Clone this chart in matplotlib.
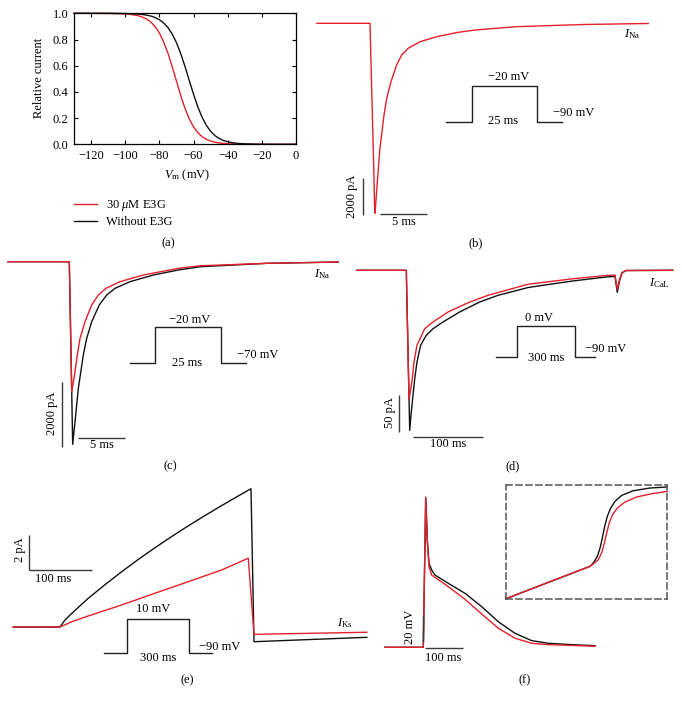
import matplotlib
matplotlib.use("Agg")
import matplotlib.pyplot as plt
from matplotlib.lines import Line2D

plt.rcParams['font.family'] = ['Liberation Serif', 'DejaVu Serif']
plt.rcParams['mathtext.fontset'] = 'custom'
plt.rcParams['mathtext.rm'] = 'Liberation Serif'
plt.rcParams['mathtext.it'] = 'Liberation Serif:italic'
plt.rcParams['mathtext.bf'] = 'Liberation Serif:bold'
plt.rcParams['font.size'] = 9

RED = '#e3202b'
BLK = '#111111'
SB = '#3a3a3a'

# ---------------- data ----------------
# (a) steady-state inactivation
a_v = [-130, -120, -110, -105, -100, -97.5, -95, -92.5, -90, -87.5, -85, -82.5, -80, -77.5,
       -75, -72.5, -70, -67.5, -65, -62.5, -60, -57.5, -55, -52.5, -50, -47.5, -45, -42.5,
       -40, -37.5, -35, -32.5, -30, -25, -20, -10, 0]
a_red = [1.0, 0.9999, 0.9992, 0.998, 0.9952, 0.9925, 0.9882, 0.9817, 0.9715, 0.956, 0.933,
         0.898, 0.849, 0.782, 0.696, 0.593, 0.482, 0.372, 0.274, 0.194, 0.133, 0.089, 0.0586,
         0.0382, 0.0247, 0.0159, 0.0102, 0.0065, 0.0042, 0.0027, 0.0017, 0.0011, 0.0007,
         0.0003, 0.0001, 0.0, 0.0]
a_black = [1.0, 0.99995, 0.9997, 0.9993, 0.9984, 0.9975, 0.9961, 0.9940, 0.9909, 0.9861,
           0.9788, 0.9677, 0.951, 0.926, 0.891, 0.842, 0.776, 0.692, 0.594, 0.487, 0.382,
           0.286, 0.207, 0.145, 0.099, 0.0668, 0.0444, 0.0293, 0.0193, 0.0126, 0.0082,
           0.0054, 0.0035, 0.0015, 0.0006, 0.0001, 0.0]
a_xticks = [-120, -100, -80, -60, -40, -20, 0]
a_yticks = [0.0, 0.2, 0.4, 0.6, 0.8, 1.0]
legend_labels = [r'30 $\mu$M E3G', 'Without E3G']

# (b) INa, holding -90 mV (ms, pA)
b_t = [-5.64, 0, 0.21, 0.43, 0.48, 0.53, 0.64, 0.78, 1.06, 1.49, 1.78, 2.23, 2.84, 3.37,
       4.07, 5.32, 7.1, 9.4, 11.2, 15.5, 22.7, 29.6]
b_red = [0, 0, -4150, -8470, -9820, -10270, -9550, -8560, -6760, -4960, -4050, -3160,
         -2250, -1710, -1350, -995, -725, -486, -362, -184, -65, -10]

# (c) INa, holding -70 mV
c_t_black = [-6.52, 0, 0.36, 0.61, 0.96, 1.49, 1.85, 2.38, 3.19, 3.98, 4.86, 6.46, 8.94,
             11.6, 13.9, 21.0, 28.6]
c_black = [0, 0, -5620, -4920, -3900, -2870, -2360, -1850, -1330, -1025, -820, -615, -410,
           -255, -155, -50, -10]
c_t_red = [-6.52, 0, 0.26, 0.61, 0.85, 1.14, 1.67, 2.38, 3.09, 3.90, 5.39, 7.87, 11.6,
           13.9, 21.0, 28.6]
c_red = [0, 0, -4000, -3385, -2870, -2360, -1850, -1330, -1025, -820, -615, -410, -205,
         -125, -50, -10]

# (d) ICaL
d_t_black = [-71.5, 0, 4.9, 7.2, 9.7, 12.1, 15.4, 20.7, 28.8, 38.5, 52.9, 76.9, 105.8,
             132.1, 175.4, 192.7, 240.2, 289.2, 300.7, 304.0, 307.2, 310.8, 316.6, 384]
d_black = [0, 0, -218, -193, -170, -148, -125, -102, -88.6, -79.6, -70.4, -56.8, -43.2,
           -34.1, -23.5, -21.0, -14.5, -9.0, -8.3, -30, -14.6, -3.7, -0.3, 0]
d_t_red = [-71.5, 0, 3.9, 8.6, 11.1, 15.4, 26.5, 38.5, 60.1, 91.4, 117.7, 175.4, 192.7,
           240.2, 289.2, 300.7, 304.0, 307.2, 310.8, 316.6, 384]
d_red = [0, 0, -177, -148, -125, -102, -79.6, -70.4, -56.8, -43.2, -34.1, -19.0, -17.0,
         -11.5, -7.0, -6.5, -26, -12.5, -3.0, -0.3, 0]

# (e) IKs
e_t_black = [-74.5, 0, 8.0, 18.7, 45.1, 71.8, 98.4, 124.9, 151.5, 178.1, 204.6, 231.3,
             257.9, 284.4, 304.6, 309.4, 489.2]
e_black = [0, 0, 0.40, 0.78, 1.64, 2.42, 3.16, 3.86, 4.53, 5.17, 5.78, 6.37, 6.94, 7.49,
           7.90, -0.84, -0.59]
e_t_red = [-74.5, 0, 18.7, 45.1, 98.4, 151.5, 204.6, 257.9, 300.3, 309.4, 489.2]
e_red = [0, 0, 0.30, 0.63, 1.26, 1.93, 2.59, 3.26, 3.93, -0.42, -0.30]

# (f) action potential (ms, mV)
f_t_black = [-100, 0, 6.3, 8.9, 10.4, 14.9, 21.9, 30.5, 65.3, 108.9, 152.5, 195.8, 239.4,
             283.0, 326.4, 387.5, 448.3]
f_black = [-85, -85, 27.5, 8.0, -4.5, -22.0, -27.0, -30.8, -37.0, -44.5, -54.5, -65.8,
           -74.5, -80.0, -82.0, -83.0, -83.8]
f_t_red = [-100, 0, 6.3, 8.9, 10.4, 14.9, 21.9, 65.3, 108.9, 152.5, 195.8, 239.4, 283.0,
           326.4, 387.5, 448.3]
f_red = [-85, -85, 27.5, 8.0, -5.0, -24.5, -30.8, -39.5, -49.0, -60.0, -70.7, -78.2,
         -82.0, -83.0, -83.6, -84.2]
# (f) inset (normalised units)
fi_x_black = [0, 27.3, 52.1, 54.1, 56.6, 58.3, 59.7, 61.2, 62.8, 64.9, 67.6, 71.7, 78.9,
              89.3, 100]
fi_black = [0, 14.9, 28.4, 31.3, 37.1, 44.4, 53.2, 63.5, 72.2, 79.5, 85.4, 90.6, 94.7,
            97.1, 98.0]
fi_x_red = [0, 27.3, 52.1, 54.1, 57.2, 59.3, 61.0, 62.4, 64.0, 66.1, 69.0, 73.8, 81.0,
            89.3, 100]
fi_red = [0, 14.9, 28.4, 30.4, 34.2, 40.1, 48.8, 57.6, 66.4, 73.7, 79.5, 84.8, 89.2,
          91.8, 94.2]

# voltage protocols (ms, mV)
prot_b_t = [-9.8, 0, 0, 25, 25, 34.3]
prot_b_v = [-90, -90, -20, -20, -90, -90]
prot_c_t = [-9.5, 0, 0, 25, 25, 34.4]
prot_c_v = [-70, -70, -20, -20, -70, -70]
prot_d_t = [-108, 0, 0, 300, 300, 403]
prot_d_v = [-90, -90, 0, 0, -90, -90]
prot_e_t = [-112.7, 0, 0, 300, 300, 408]
prot_e_v = [-90, -90, 10, 10, -90, -90]

# ---------------- figure ----------------
W, H = 682, 706
fig = plt.figure(figsize=(W / 100, H / 100), dpi=100)


def panel(box, xa, xs, ya, ys, x0=0.0, y0=0.0):
    l, t, r, b = box
    ax = fig.add_axes([l / W, 1 - b / H, (r - l) / W, (b - t) / H])
    ax.set_xlim(x0 + (l - xa) / xs, x0 + (r - xa) / xs)
    ax.set_ylim(y0 + (ya - b) / ys, y0 + (ya - t) / ys)
    ax.axis('off')

    def d(px, py):
        return (x0 + (px - xa) / xs, y0 + (ya - py) / ys)
    return ax, d


def vbar(ax, d, px, py_bottom, length):
    x, y = d(px, py_bottom)
    ax.plot([x, x], [y, y + length], color=SB, lw=1.0, solid_capstyle='butt')


def hbar(ax, d, px_left, py, length):
    x, y = d(px_left, py)
    ax.plot([x, x + length], [y, y], color=SB, lw=1.0, solid_capstyle='butt')


def txt(ax, d, px, py, s, **kw):
    x, y = d(px, py)
    ax.text(x, y, s, ha=kw.pop('ha', 'center'), va=kw.pop('va', 'center'), **kw)


def protocol(box, xa, xs, ya, ys, y0, t, v, labels):
    ax, d = panel(box, xa, xs, ya, ys, y0=y0)
    ax.plot(t, v, color='#222222', lw=1.0)
    for px, py, s in labels:
        txt(ax, d, px, py, s)


def flabel(px, py, s):
    fig.text(px / W, 1 - py / H, s, ha='center', va='center')


# ----- (a)
axa = fig.add_axes([74 / W, 1 - 144.3 / H, 222 / W, 131 / H])
axa.plot(a_v, a_red, color=RED, lw=1.0, clip_on=False)
axa.plot(a_v, a_black, color=BLK, lw=1.0, clip_on=False)
axa.set_xlim(-130, 0)
axa.set_ylim(0, 1.0)
axa.set_xticks(a_xticks)
axa.set_yticks(a_yticks)
axa.set_yticklabels(['%.1f' % v for v in a_yticks])
axa.tick_params(direction='in', length=3, width=0.8, top=True, right=True, pad=4)
for sp in axa.spines.values():
    sp.set_linewidth(0.9)
axa.set_xlabel(r'$V_{\mathrm{m}}$ (mV)')
axa.xaxis.set_label_coords(0.508, -0.175)
axa.set_ylabel('Relative current')
axa.yaxis.set_label_coords(-0.129, 0.506)
handles = [Line2D([], [], color=RED, lw=1.0), Line2D([], [], color=BLK, lw=1.0)]
axa.legend(handles, legend_labels, loc='upper left', bbox_to_anchor=(74 / W, 1 - 198 / H),
           bbox_transform=fig.transFigure, frameon=False, borderpad=0, borderaxespad=0,
           handlelength=1.85, handletextpad=0.75, labelspacing=0.25, fontsize=9)
flabel(168, 243, '(a)')

# ----- (b)
axb, db = panel((300, 5, 672, 235), 370, 9.4, 23.3, 0.0185)
axb.plot(b_t, b_red, color=RED, lw=1.0)
txt(axb, db, 632, 34, r'$I_{\mathrm{Na}}$')
vbar(axb, db, 363, 215, 2000)
hbar(axb, db, 380, 213.7, 5)
txt(axb, db, 352, 196.7, '2000 pA', rotation=90)
txt(axb, db, 404, 222, '5 ms')
protocol((430, 60, 620, 135), 471.7, 2.624, 122.3, 0.5186, -90, prot_b_t, prot_b_v,
         [(508.8, 77.3, '\u221220 mV'), (502.7, 120.7, '25 ms'), (574, 113.3, '\u221290 mV')])
flabel(476, 243, '(b)')

# ----- (c)
axc, dc = panel((0, 250, 345, 455), 69.3, 9.4, 261.7, 0.0325)
axc.plot(c_t_black, c_black, color=BLK, lw=1.0)
axc.plot(c_t_red, c_red, color=RED, lw=1.0)
txt(axc, dc, 322, 274, r'$I_{\mathrm{Na}}$')
vbar(axc, dc, 62, 446.7, 2000)
hbar(axc, dc, 78, 438, 5)
txt(axc, dc, 51.7, 413.3, '2000 pA', rotation=90)
txt(axc, dc, 101.7, 445, '5 ms')
protocol((115, 300, 290, 375), 155, 2.64, 363.3, 0.732, -70, prot_c_t, prot_c_v,
         [(190, 320, '\u221220 mV'), (186.7, 362.7, '25 ms'), (257.3, 355, '\u221270 mV')])
flabel(170, 466, '(c)')

# ----- (d)
axd, dd = panel((345, 255, 680, 445), 406.3, 0.694, 270.3, 0.734)
axd.plot(d_t_black, d_black, color=BLK, lw=1.0)
axd.plot(d_t_red, d_red, color=RED, lw=1.0)
txt(axd, dd, 659, 283, r'$I_{\mathrm{CaL}}$')
vbar(axd, dd, 399.3, 431.7, 50)
hbar(axd, dd, 413.3, 436.7, 100)
txt(axd, dd, 390, 413, '50 pA', rotation=90)
txt(axd, dd, 448.3, 444, '100 ms')
protocol((480, 305, 640, 370), 516.7, 0.1943, 357.3, 0.348, -90, prot_d_t, prot_d_v,
         [(539, 318.3, '0 mV'), (545.8, 358.3, '300 ms'), (605.7, 349.3, '\u221290 mV')])
flabel(513, 466, '(d)')

# ----- (e)
axe, de = panel((5, 475, 380, 665), 60, 0.627, 627, 17.5)
axe.plot(e_t_black, e_black, color=BLK, lw=1.0)
axe.plot(e_t_red, e_red, color=RED, lw=1.0)
txt(axe, de, 345, 623.3, r'$I_{\mathrm{Ks}}$')
vbar(axe, de, 29, 570, 2)
hbar(axe, de, 29, 570, 100)
txt(axe, de, 20, 550, '2 pA', rotation=90)
txt(axe, de, 53.3, 579.3, '100 ms')
protocol((90, 595, 250, 670), 127.3, 0.2067, 653.3, 0.34, -90, prot_e_t, prot_e_v,
         [(153.3, 609.3, '10 mV'), (158, 658.3, '300 ms'), (219.7, 646.7, '\u221290 mV')])
flabel(187.5, 680, '(e)')

# ----- (f)
axf, dfp = panel((380, 480, 610, 665), 423.3, 0.383, 647.3, 1.333, y0=-85)
axf.plot(f_t_black, f_black, color=BLK, lw=1.0)
axf.plot(f_t_red, f_red, color=RED, lw=1.0)
vbar(axf, dfp, 423.3, 641.7, 20)
hbar(axf, dfp, 425, 648.3, 100)
txt(axf, dfp, 410, 626.7, '20 mV', rotation=90)
txt(axf, dfp, 443.3, 658.3, '100 ms')
flabel(525, 680, '(f)')

axi = fig.add_axes([506 / W, 1 - 598.7 / H, 161.3 / W, 114 / H])
axi.plot(fi_x_black, fi_black, color=BLK, lw=1.0, clip_on=False)
axi.plot(fi_x_red, fi_red, color=RED, lw=1.0, clip_on=False)
axi.set_xlim(0, 100)
axi.set_ylim(0, 100)
axi.set_xticks([])
axi.set_yticks([])
axi.patch.set_visible(False)
for sp in axi.spines.values():
    sp.set_linestyle((0, (4, 2.5)))
    sp.set_linewidth(1.1)
    sp.set_edgecolor('#555555')

fig.savefig('out.png', dpi=100)
